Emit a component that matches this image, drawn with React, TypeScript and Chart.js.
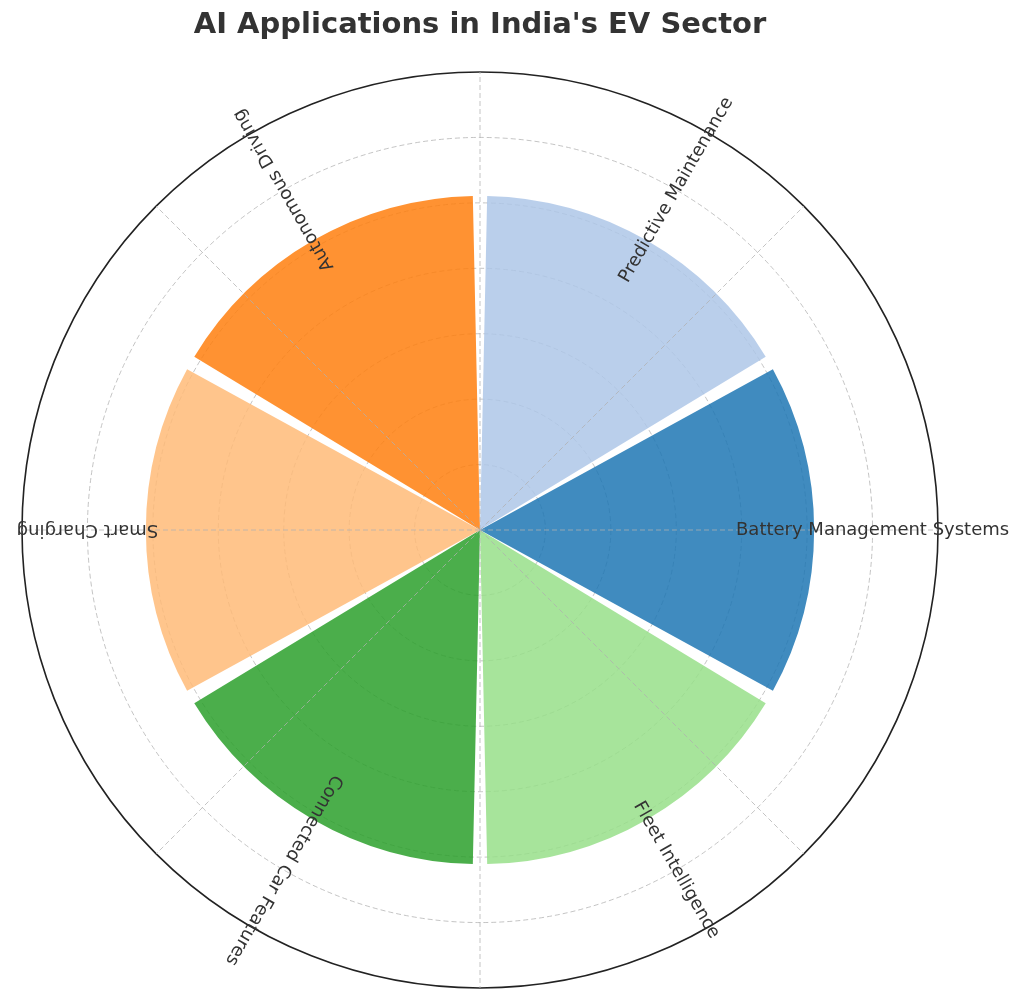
import { useEffect, useRef } from "react";
import { Chart, registerables } from "chart.js";

Chart.register(...registerables);

// categories in the order they appear counter-clockwise from the east
const categories = [
  "Battery Management Systems",
  "Predictive Maintenance",
  "Autonomous Driving",
  "Smart Charging",
  "Connected Car Features",
  "Fleet Intelligence",
];
const scores = [5, 5, 5, 5, 5, 5];
const palette = [
  "rgba(31, 119, 180, 0.85)",
  "rgba(174, 199, 232, 0.85)",
  "rgba(255, 127, 14, 0.85)",
  "rgba(255, 187, 120, 0.85)",
  "rgba(44, 160, 44, 0.85)",
  "rgba(152, 223, 138, 0.85)",
];
const radialTicks = [0, 1, 2, 3, 4, 5, 6, 7];
const gridAngles = [0, 45, 90, 135, 180, 225, 270, 315];
const labelValue = 6;

// chart.js goes clockwise, the original goes counter-clockwise
const order = [0, 5, 4, 3, 2, 1];

const GRID = "rgba(176, 176, 176, 0.75)";
const TEXT = "#333333";

const polarExtras = {
  id: "polarExtras",
  afterDatasetsDraw(chart: any) {
    const scale = chart.scales.r;
    const ctx = chart.ctx;
    const r = scale.getDistanceFromCenterForValue(radialTicks[radialTicks.length - 1]);
    ctx.save();
    ctx.strokeStyle = GRID;
    ctx.lineWidth = 1;
    ctx.setLineDash([5, 3]);
    gridAngles.forEach((deg) => {
      const a = (-deg * Math.PI) / 180;
      ctx.beginPath();
      ctx.moveTo(scale.xCenter, scale.yCenter);
      ctx.lineTo(scale.xCenter + Math.cos(a) * r, scale.yCenter + Math.sin(a) * r);
      ctx.stroke();
    });
    ctx.restore();
  },
  afterDraw(chart: any) {
    const scale = chart.scales.r;
    const ctx = chart.ctx;
    const meta = chart.getDatasetMeta(0);
    const r = scale.getDistanceFromCenterForValue(labelValue);
    ctx.save();
    ctx.fillStyle = TEXT;
    ctx.font = '18px "DejaVu Sans"';
    ctx.textAlign = "center";
    ctx.textBaseline = "middle";
    meta.data.forEach((arc: any, i: number) => {
      const a = (arc.startAngle + arc.endAngle) / 2;
      ctx.save();
      ctx.translate(scale.xCenter + Math.cos(a) * r, scale.yCenter + Math.sin(a) * r);
      ctx.rotate(a);
      ctx.fillText(chart.data.labels[i], 0, 0);
      ctx.restore();
    });
    ctx.restore();
  },
};

export default function App() {
  const canvasRef = useRef<HTMLCanvasElement>(null);

  useEffect(() => {
    const chart = new Chart(canvasRef.current!, {
      type: "polarArea",
      data: {
        labels: order.map((i) => categories[i]),
        datasets: [
          {
            data: order.map((i) => scores[i]),
            backgroundColor: order.map((i) => palette[i]),
            borderWidth: 0,
            spacing: 14,
          } as any,
        ],
      },
      options: {
        responsive: false,
        animation: false,
        layout: { padding: { left: 22, right: 86, top: 0, bottom: 15 } },
        plugins: {
          legend: { display: false },
          tooltip: { enabled: false },
          title: {
            display: true,
            text: "AI Applications in India's EV Sector",
            color: TEXT,
            font: { family: "DejaVu Sans", size: 29, weight: "bold" },
            padding: { top: 8, bottom: 30 },
          },
        },
        scales: {
          r: {
            min: radialTicks[0],
            max: radialTicks[radialTicks.length - 1],
            startAngle: 60,
            angleLines: { display: false },
            pointLabels: { display: false },
            ticks: { display: false, stepSize: 1, z: 1 },
            grid: {
              circular: true,
              color: (c: any) => (c.index === radialTicks.length - 1 ? "#222222" : GRID),
              lineWidth: (c: any) => (c.index === radialTicks.length - 1 ? 1.6 : 1),
            },
            border: {
              dash: (c: any) => (c.index === radialTicks.length - 1 ? [] : [5, 3]),
            },
          },
        },
      },
      plugins: [polarExtras],
    });

    return () => chart.destroy();
  }, []);

  return (
    <div style={{ position: "absolute", left: 0, top: 0, width: 1024, height: 1004, background: "#fff" }}>
      <canvas ref={canvasRef} width={1024} height={1004} style={{ display: "block" }}></canvas>
    </div>
  );
}
